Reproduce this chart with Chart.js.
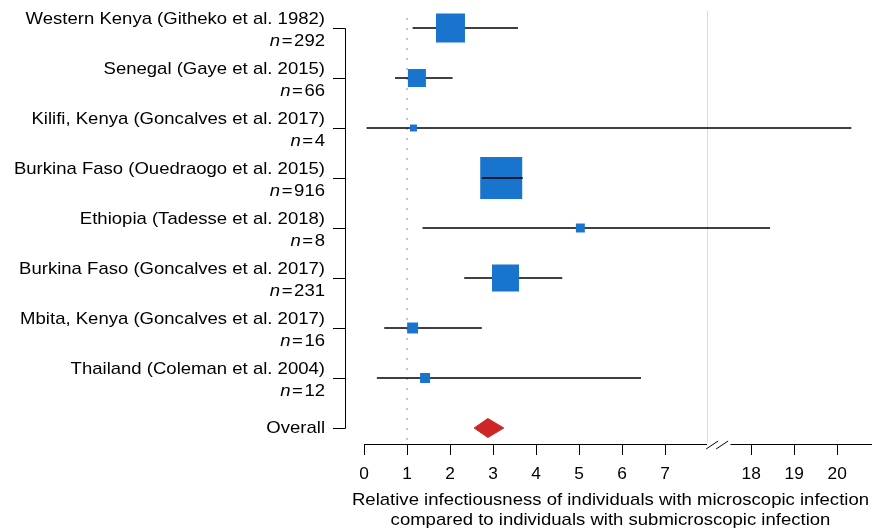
<!DOCTYPE html>
<html>
<head>
<meta charset="utf-8">
<script src="https://cdn.jsdelivr.net/npm/chart.js@4"></script>
<style>
  html, body { margin: 0; padding: 0; background: #fff; }
  #wrap { width: 872px; height: 530px; position: relative; }
</style>
</head>
<body>
<div id="wrap"><canvas id="forest"></canvas></div>
<script>
const studies = [
  "Western Kenya (Githeko et al. 1982)",
  "Senegal (Gaye et al. 2015)",
  "Kilifi, Kenya (Goncalves et al. 2017)",
  "Burkina Faso (Ouedraogo et al. 2015)",
  "Ethiopia (Tadesse et al. 2018)",
  "Burkina Faso (Goncalves et al. 2017)",
  "Mbita, Kenya (Goncalves et al. 2017)",
  "Thailand (Coleman et al. 2004)",
];
const sampleSizes = [292, 66, 4, 916, 8, 231, 16, 12];
const estimates = [2.01, 1.23, 1.15, 3.19, 5.03, 3.29, 1.13, 1.42];
const lowerCI = [1.13, 0.72, 0.06, 2.74, 1.36, 2.33, 0.47, 0.30];
const upperCI = [3.58, 2.06, 20.33, 3.69, 18.44, 4.61, 2.74, 6.44];
const weights = [21.0, 8.1, 1.2, 44.0, 2.0, 18.2, 3.0, 2.5];
const overallLabel = "Overall";
const overallEstimate = 2.88;
const overallLower = 2.56;
const overallUpper = 3.25;
const tickValues = [0, 1, 2, 3, 4, 5, 6, 7, 18, 19, 20];
const axisTitle = [
  "Relative infectiousness of individuals with microscopic infection",
  "compared to individuals with submicroscopic infection",
];

// broken axis: everything above the break is shifted left by 9 units
const BREAK_AT = 8;
const BREAK_SHIFT = 9;
const toAxis = (v) => (v <= BREAK_AT ? v : v - BREAK_SHIFT);
const fromAxis = (t) => (t <= BREAK_AT ? t : t + BREAK_SHIFT);

const FONT = "'Liberation Sans', Arial, Helvetica, sans-serif";
const STRETCH = 1.09; // reference text is a bit wider than Arial
const BLUE = "#1874cd";
const RED = "#cd2626";
const overallRow = studies.length;

const datasets = [];

// reference line at 1
datasets.push({
  type: "line",
  data: [{ x: 1, y: -0.2 }, { x: 1, y: overallRow + 0.32 }],
  borderColor: "#c4c4c4",
  borderWidth: 2,
  borderDash: [2, 8],
  pointRadius: 0,
  order: 6,
});

const boxSide = weights.map((w) => 6.33 * Math.sqrt(w));

studies.forEach((name, i) => {
  // CI narrower than the box -> draw it on top so it stays visible
  const ciPx = (toAxis(upperCI[i]) - toAxis(lowerCI[i])) * 43;
  datasets.push({
    type: "line",
    data: [{ x: toAxis(lowerCI[i]), y: i }, { x: toAxis(upperCI[i]), y: i }],
    borderColor: "#000",
    borderWidth: 1.3,
    pointRadius: 0,
    order: ciPx < boxSide[i] ? 1 : 4,
  });
});

datasets.push({
  type: "scatter",
  data: estimates.map((e, i) => ({ x: toAxis(e), y: i })),
  pointStyle: "rect",
  pointRadius: boxSide.map((s) => s / Math.SQRT2),
  pointHoverRadius: boxSide.map((s) => s / Math.SQRT2),
  backgroundColor: BLUE,
  borderWidth: 0,
  order: 2,
});

datasets.push({
  type: "line",
  data: [
    { x: toAxis(overallLower), y: overallRow },
    { x: toAxis(overallEstimate), y: overallRow - 0.19 },
    { x: toAxis(overallUpper), y: overallRow },
    { x: toAxis(overallEstimate), y: overallRow + 0.19 },
    { x: toAxis(overallLower), y: overallRow },
  ],
  borderColor: RED,
  backgroundColor: RED,
  borderWidth: 1,
  fill: "shape",
  pointRadius: 0,
  tension: 0,
  order: 1,
});

function wideText(ctx, str, x, y, align, font, sx) {
  ctx.save();
  ctx.font = font;
  ctx.textAlign = align;
  ctx.textBaseline = "alphabetic";
  ctx.translate(x, y);
  ctx.scale(sx, 1);
  ctx.fillText(str, 0, 0);
  const w = ctx.measureText(str).width * sx;
  ctx.restore();
  return w;
}

const studyAxis = {
  id: "studyAxis",
  beforeDatasetsDraw(chart) {
    const { ctx, chartArea } = chart;
    const x = chart.scales.x;
    const gx = Math.round(x.getPixelForValue(BREAK_AT)) - 0.5;
    ctx.save();
    ctx.strokeStyle = "#dcdcdc";
    ctx.lineWidth = 1;
    ctx.beginPath();
    ctx.moveTo(gx, chartArea.top);
    ctx.lineTo(gx, chartArea.bottom);
    ctx.stroke();
    ctx.restore();
  },
  afterDraw(chart) {
    const { ctx, chartArea } = chart;
    const x = chart.scales.x;
    const y = chart.scales.y;
    const axisX = 345.5;
    ctx.save();
    ctx.strokeStyle = "#000";
    ctx.fillStyle = "#000";
    ctx.lineWidth = 1;
    ctx.beginPath();
    ctx.moveTo(axisX, Math.round(y.getPixelForValue(0)) + 0.5);
    ctx.lineTo(axisX, Math.round(y.getPixelForValue(overallRow)) + 0.5);
    for (let i = 0; i <= overallRow; i++) {
      const py = Math.round(y.getPixelForValue(i)) + 0.5;
      ctx.moveTo(333, py);
      ctx.lineTo(axisX, py);
    }
    ctx.stroke();

    // study labels, "n = ..." underneath with italic n
    const right = 325;
    const plain = `17px ${FONT}`;
    studies.forEach((name, i) => {
      const py = y.getPixelForValue(i);
      wideText(ctx, name, right, py - 4, "right", plain, STRETCH);
      const wRest = wideText(ctx, "\u200a=\u200a" + sampleSizes[i], right, py + 17.5, "right", plain, STRETCH);
      wideText(ctx, "n", right - wRest, py + 17.5, "right", `italic 17px ${FONT}`, STRETCH);
    });
    wideText(ctx, overallLabel, right, y.getPixelForValue(overallRow) + 5, "right", plain, STRETCH);

    // x tick labels and title
    x.ticks.forEach((tk) => {
      const label = String(Math.round(fromAxis(tk.value)));
      wideText(ctx, label, x.getPixelForValue(tk.value), 478.5, "center", `16.5px ${FONT}`, 1.05);
    });
    wideText(ctx, axisTitle[0], 610.5, 505, "center", plain, STRETCH);
    wideText(ctx, axisTitle[1], 610.5, 525, "center", plain, STRETCH);

    // axis break
    const ay = chartArea.bottom;
    const b0 = x.getPixelForValue(BREAK_AT);
    const b1 = x.getPixelForValue(BREAK_AT + 0.52);
    ctx.fillStyle = "#fff";
    ctx.fillRect(b0 - 1, ay - 2, b1 - b0 + 1, 4);
    ctx.beginPath();
    ctx.moveTo(b0 - 2, ay + 5);
    ctx.lineTo(b0 + 10, ay - 3);
    ctx.moveTo(b0 + 8, ay + 5);
    ctx.lineTo(b0 + 20, ay - 3);
    ctx.stroke();
    ctx.restore();
  },
};

new Chart(document.getElementById("forest"), {
  type: "scatter",
  data: { datasets },
  options: {
    responsive: true,
    maintainAspectRatio: false,
    animation: false,
    layout: { autoPadding: false, padding: { left: 364, top: 11, right: 0, bottom: 0 } },
    plugins: {
      legend: { display: false },
      tooltip: { enabled: false },
    },
    scales: {
      x: {
        type: "linear",
        min: 0,
        max: 11.81,
        afterBuildTicks(scale) {
          scale.ticks = tickValues.map((v) => ({ value: toAxis(v) }));
        },
        afterFit(scale) {
          scale.height = 86;
        },
        ticks: { display: false },
        grid: {
          drawOnChartArea: false,
          drawTicks: true,
          tickLength: 11,
          tickColor: "#000",
          tickWidth: 1,
        },
        border: { display: true, color: "#000", width: 1 },
      },
      y: {
        type: "linear",
        display: false,
        reverse: true,
        min: -0.34,
        max: overallRow + 0.32,
      },
    },
  },
  plugins: [studyAxis],
});
</script>
</body>
</html>
